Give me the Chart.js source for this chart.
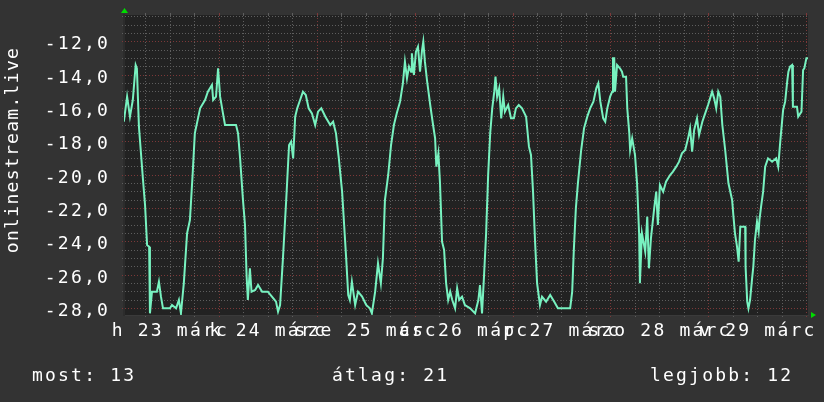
<!DOCTYPE html>
<html lang="hu">
<head>
<meta charset="utf-8">
<title>onlinestream.live</title>
<script src="https://cdn.jsdelivr.net/npm/chart.js@4/dist/chart.umd.min.js"></script>
<style>
  html, body { margin: 0; padding: 0; background: #333333; }
  canvas { display: block; }
</style>
</head>
<body>
<canvas id="rank" width="824" height="402"></canvas>
<script>
// --------- adatok (egy hét, órában a hétfő 0:00-tól) ----------
const hours = [
  0.6, 1.4, 2.1, 2.8, 3.5, 3.8, 4.3, 5.3, 5.8, 6.3, 6.8, 7.0, 7.5, 8.7, 9.2, 9.7, 10.2, 11.9, 12.4, 13.4,
  14.1, 14.6, 15.3, 16.1, 16.8, 17.5, 18.0, 19.3, 20.5, 21.2, 22.2, 22.5, 23.2, 23.7, 24.2, 24.9, 25.4, 28.1, 28.6,
  29.1, 29.8, 30.3, 30.7, 31.0, 31.5, 31.9, 32.8, 33.5, 34.5, 35.9, 36.9, 37.9, 38.4, 38.9, 39.6, 40.4, 41.1, 41.6,
  42.1, 42.6, 43.1, 43.8, 44.5, 45.2, 45.9, 46.7, 47.5, 48.2, 49.0, 50.0, 51.2, 51.9, 52.6, 53.3, 54.1, 54.6, 55.1, 55.6,
  56.0, 56.5, 57.3, 58.0, 59.0, 60.0, 60.9, 61.4, 62.2, 62.9, 63.6, 64.1, 64.6, 65.4, 66.1, 66.8, 67.5, 68.3, 69.0,
  69.5, 70.0, 70.5, 71.0, 71.2, 71.7, 72.2, 72.7, 73.2, 73.7, 74.0, 74.4, 74.9, 75.7, 76.4, 76.9, 77.2, 77.7, 78.1,
  78.6, 79.1, 79.6, 80.1,
  80.6, 81.1, 81.8, 82.3, 82.8, 83.5, 84.2, 85.5, 86.7, 87.5, 87.9, 88.4, 88.9, 89.4, 89.9, 90.4, 90.9, 91.4, 91.7,
  92.1, 92.6, 93.1, 93.6, 94.0, 94.8, 95.5, 96.2, 96.7, 97.4, 98.2, 99.2, 99.9, 100.4, 100.9, 101.4, 101.9, 102.6,
  103.1, 104.1, 105.1, 106.1, 107.0, 110.0, 110.5, 110.9, 111.4, 111.9, 112.7, 113.4, 114.2, 114.9, 115.7, 116.4,
  116.9, 117.4, 118.1, 118.6, 119.1, 119.8, 120.3, 120.5, 120.8, 121.0, 121.5, 122.2, 122.7, 123.0, 123.7, 124.0,
  124.5, 124.7, 125.2, 125.9,
  126.4, 126.9, 127.1, 127.6, 128.4, 128.9, 129.3, 129.8, 130.6, 131.1, 131.5, 132.0, 132.8, 133.5, 134.5, 135.2,
  136.0, 136.7, 137.4, 138.2, 138.9, 139.4, 139.9, 140.4, 141.1, 141.6, 142.4, 143.1, 143.8, 144.3, 144.8, 145.3,
  145.8, 146.3, 146.8, 147.3, 148.0, 148.8, 149.7, 150.0, 150.4, 150.9, 151.3, 151.7, 152.9, 153.0, 153.4, 153.7,
  154.1, 154.6, 154.9, 155.3, 155.8, 156.2, 156.4, 156.8, 157.3, 157.8, 158.5, 159.5, 160.5, 161.0, 161.5, 162.2,
  162.7, 163.2, 163.5, 163.9, 164.4, 164.6, 165.6, 165.9, 166.7, 167.1, 167.4, 167.9, 168.3
];
const rank = [
  -16.8, -15.3, -16.5, -15.5, -13.4, -13.6, -17.1, -20.3, -21.8, -24.2, -24.3, -28.3, -27.0, -27.0, -26.4, -27.3, -28.0, -28.0, -27.8, -28.0,
  -27.5, -28.3, -26.5, -23.5, -22.7, -19.8, -17.5, -16.0, -15.5, -15.0, -14.6, -15.5, -15.3, -13.6, -15.3, -16.3, -17.0, -17.0, -17.5,
  -19.0, -21.5, -23.0, -26.1, -27.5, -25.6, -27.0, -26.9, -26.6, -27.0, -27.0, -27.3, -27.6, -28.2, -27.8, -25.0, -21.5, -18.2, -18.0,
  -19.0, -16.5, -16.0, -15.5, -15.0, -15.2, -16.0, -16.3, -17.0, -16.2, -16.0, -16.5, -17.0, -16.8, -17.5, -19.0, -21.0, -23.0, -25.0, -27.2,
  -27.5, -26.4, -27.8, -27.0, -27.3, -27.8, -28.0, -28.3, -27.0, -25.3, -26.5, -25.0, -21.5, -20.0, -18.2, -17.0, -16.3, -15.6, -14.5,
  -13.2, -14.2, -13.5, -13.8, -12.7, -14.0, -12.6, -12.3, -13.8, -12.5, -12.0, -13.2, -14.3, -15.8, -17.0, -17.8, -19.5, -18.7, -20.5,
  -24.0, -24.5, -26.5, -27.5,
  -27.0, -27.5, -28.0, -26.8, -27.5, -27.3, -27.8, -28.0, -28.3, -27.5, -26.6, -28.3, -26.0, -23.5, -20.0, -17.5, -16.0, -15.0, -14.1,
  -15.3, -14.8, -16.6, -15.3, -16.2, -15.8, -16.6, -16.6, -16.0, -15.8, -16.0, -16.5, -18.3, -18.8, -21.0, -24.0, -26.5, -27.8,
  -27.3, -27.6, -27.2, -27.6, -28.0, -28.0, -27.0, -24.5, -22.0, -20.5, -18.5, -17.2, -16.5, -16.0, -15.6, -14.8,
  -14.5, -15.6, -16.6, -16.8, -16.0, -15.3, -15.0, -13.0, -13.0, -15.0, -13.4, -13.6, -13.8, -14.1, -14.1, -16.0,
  -17.5, -18.5, -17.8, -18.8,
  -20.5, -23.5, -26.5, -23.5, -24.6, -22.5, -25.6, -23.8, -22.0, -21.0, -23.0, -20.6, -21.0, -20.4, -20.0, -19.8,
  -19.5, -19.2, -18.7, -18.5, -17.8, -17.2, -18.6, -17.3, -16.6, -17.6, -16.8, -16.3, -15.8, -15.4, -15.0, -15.4,
  -16.0, -15.0, -15.3, -17.0, -18.5, -20.5, -21.5, -22.4, -23.5, -24.3, -25.2, -23.1, -23.1, -25.5, -27.6, -28.0,
  -27.5, -26.2, -25.5, -23.9, -22.8, -23.4, -22.7, -21.9, -21.0, -19.5, -19.0, -19.2, -19.0, -19.5, -18.0, -16.1,
  -15.6, -14.4, -13.8, -13.5, -13.4, -15.9, -15.9, -16.5, -16.2, -13.7, -13.6, -13.0, -13.0
];

// napok címkéi (délben középre téve, mint az rrdtool-ban)
const dayLabels = ["h 23 márc", "k 24 márc", "sze 25 márc", "cs 26 márc", "p 27 márc", "szo 28 márc", "v 29 márc"];
const yMajor = [-28, -26, -24, -22, -20, -18, -16, -14, -12];
const legendItems = [["most", 13], ["átlag", 21], ["legjobb", 12]];
const seriesName = "onlinestream.live";

// --------- megjelenés ----------
const MONO = "'DejaVu Sans Mono', monospace";
const COL = {
  back: "#333333", canvas: "#222222",
  minor: "#5e5e5e", major: "#7c3838",
  line: "#78f2c0", arrow: "#00dd00", text: "#ffffff"
};
const X_MIN = 0.64, X_MAX = 168.3;

// rácsvonalak: 6 óránként, nap eleje piros
const gridHours = [];
for (let h = 6; h <= 168; h += 6) gridHours.push(h);
const yGrid = [];
for (let v = -28; v <= -10.5; v += 0.5) yGrid.push(v);

const xGridColor = c => (c.tick && c.tick.value % 24 === 0 ? COL.major : COL.minor);
const yGridColor = c => (c.tick && c.tick.value % 2 === 0 ? COL.major : COL.minor);

// háttér, nyilak, függőleges felirat, alsó összesítő
const rrdDecor = {
  id: "rrdDecor",
  beforeDraw(chart) {
    const { ctx, chartArea: a, width, height } = chart;
    ctx.letterSpacing = "2.2px";
    ctx.save();
    ctx.fillStyle = COL.back;
    ctx.fillRect(0, 0, width, height);
    ctx.fillStyle = COL.canvas;
    ctx.fillRect(a.left, a.top, a.right - a.left, a.bottom - a.top);
    ctx.restore();
  },
  afterDraw(chart) {
    const { ctx, chartArea: a } = chart;
    ctx.save();
    ctx.fillStyle = COL.arrow;
    ctx.beginPath();
    ctx.moveTo(a.left - 3, 13); ctx.lineTo(a.left + 0.5, 8); ctx.lineTo(a.left + 4, 13);
    ctx.closePath(); ctx.fill();
    ctx.beginPath();
    ctx.moveTo(a.right + 3, a.bottom - 3); ctx.lineTo(a.right + 8, a.bottom); ctx.lineTo(a.right + 3, a.bottom + 3);
    ctx.closePath(); ctx.fill();

    ctx.fillStyle = COL.text;
    ctx.font = "18px " + MONO;
    ctx.letterSpacing = "1.3px";
    ctx.textAlign = "center";
    ctx.textBaseline = "alphabetic";
    ctx.translate(18, 150);
    ctx.rotate(-Math.PI / 2);
    ctx.fillText(seriesName, 0, 0);
    ctx.restore();

    ctx.save();
    ctx.fillStyle = COL.text;
    ctx.font = "18px " + MONO;
    ctx.letterSpacing = "2.2px";
    ctx.textAlign = "left";
    ctx.textBaseline = "alphabetic";
    const lx = [32, 332, 650];
    legendItems.forEach((it, i) => ctx.fillText(it[0] + ": " + it[1], lx[i], 381));
    ctx.restore();
  }
};

const tickFont = { family: MONO, size: 18 };

new Chart(document.getElementById("rank"), {
  type: "line",
  data: {
    datasets: [{
      label: seriesName,
      data: hours.map((h, i) => ({ x: h, y: rank[i] })),
      borderColor: COL.line,
      borderWidth: 2,
      pointRadius: 0,
      tension: 0,
      fill: false
    }]
  },
  options: {
    responsive: false,
    animation: false,
    devicePixelRatio: 1,
    layout: { padding: { top: 13, right: 16, bottom: 0, left: 0 } },
    plugins: { legend: { display: false }, tooltip: { enabled: false } },
    scales: {
      x: {
        type: "linear", min: X_MIN, max: X_MAX,
        afterBuildTicks: s => { s.ticks = gridHours.map(v => ({ value: v })); },
        afterFit: s => { s.height = 87; },
        ticks: {
          autoSkip: false, maxRotation: 0, minRotation: 0,
          color: COL.text, font: tickFont, padding: 4,
          callback: v => (v % 24 === 12 ? dayLabels[(v - 12) / 24] : "")
        },
        grid: { color: xGridColor, tickColor: xGridColor, lineWidth: 1, tickLength: 2 },
        border: { display: true, color: "#3a3a3a", dash: [1, 2] }
      },
      xTop: {
        type: "linear", position: "top", min: X_MIN, max: X_MAX,
        afterBuildTicks: s => { s.ticks = gridHours.map(v => ({ value: v })); },
        afterFit: s => { s.height = 2; },
        ticks: { display: false },
        grid: { drawOnChartArea: false, tickColor: xGridColor, tickLength: 2 },
        border: { display: false }
      },
      y: {
        min: -28.4, max: -10.4,
        afterBuildTicks: s => { s.ticks = yGrid.map(v => ({ value: v })); },
        afterFit: s => { s.width = 124; },
        ticks: {
          autoSkip: false, color: COL.text, padding: 12, labelOffset: 3,
          // kis sormagasság, hogy a felső címke ne tolja lejjebb a rajzterületet
          font: { family: MONO, size: 18, lineHeight: 0.1 },
          callback: v => (yMajor.includes(v) ? v.toFixed(1).replace(".", ",") : "")
        },
        grid: { color: yGridColor, tickColor: yGridColor, lineWidth: 1, tickLength: 2 },
        border: { display: true, color: "#2c2c2c", width: 2, dash: [1, 2] }
      }
    }
  },
  plugins: [rrdDecor]
});
</script>
</body>
</html>
